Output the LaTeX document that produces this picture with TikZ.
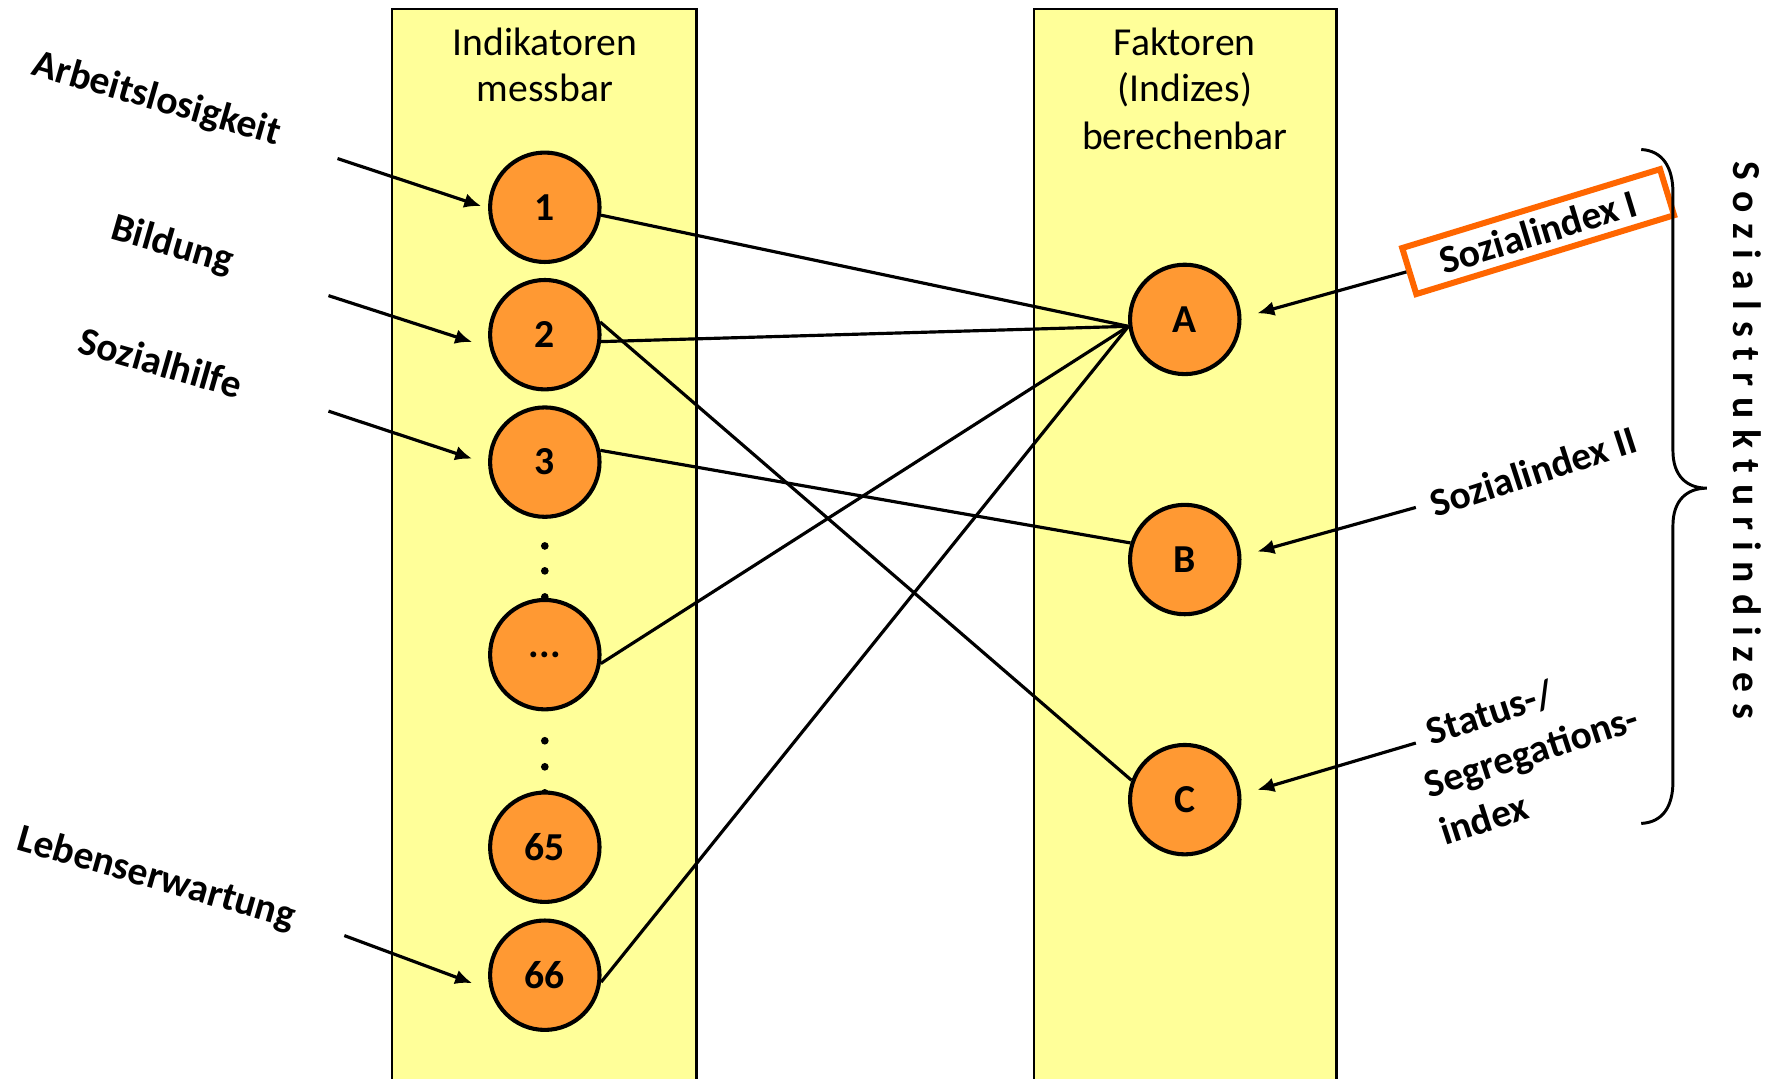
\documentclass[tikz,border=0pt]{standalone}
\usepackage{fontspec}
\setmainfont{Carlito}
\usetikzlibrary{arrows.meta,calc}
\definecolor{colfill}{HTML}{FFFF99}
\definecolor{ballfill}{HTML}{FF9933}
\definecolor{boxline}{HTML}{FF6600}
\tikzset{
  column/.style={draw=black, line width=1pt, fill=colfill},
  ball/.style={circle, draw=black, line width=1.8pt, fill=ballfill,
    minimum size=48.3pt, inner sep=0pt,
    font=\fontsize{17.5pt}{21pt}\selectfont\bfseries},
  head/.style={font=\fontsize{17.5pt}{21pt}\selectfont, anchor=base, inner sep=0pt},
  tag/.style={font=\fontsize{17.5pt}{22pt}\selectfont\bfseries, inner sep=0pt},
  link/.style={line width=1.4pt},
  feed/.style={line width=1.4pt, -{Latex[length=7.5pt,width=6.5pt]}},
}
\begin{document}
\begin{tikzpicture}[x=0.5pt,y=-0.5pt]
\useasboundingbox (0,0) rectangle (1568,952);
\clip (0,0) rectangle (1568,952);
\fill[white] (0,0) rectangle (1568,952);

% the two columns
\draw[column] (346,8) rectangle (615,975);
\draw[column] (913,8) rectangle (1180,975);

% column headings
\node[head] (h1a) at (481,49) {Indikatoren};
\node[head] (h1b) at (481,90) {messbar};
\node[head] (h2a) at (1046,49) {Faktoren};
\node[head] (h2b) at (1046,90) {(Indizes)};
\node[head] (h2c) at (1046,132) {berechenbar};

% ellipsis dots between the indicator circles
\foreach \yy in {482,504,527,654,677,700}
  \fill (481,\yy) circle (1.7pt);

% indicators
\node[ball] (n1)  at (481,183)   {1};
\node[ball] (n2)  at (481,295.5) {2};
\node[ball] (n3)  at (481,408)   {3};
\node[ball] (n4)  at (481,578)   {...};
\node[ball] (n65) at (481,748)   {65};
\node[ball] (n66) at (481,861)   {66};

% factors
\node[ball] (A) at (1046,282) {A};
\node[ball] (B) at (1046,494) {B};
\node[ball] (C) at (1046,706) {C};

% loadings of indicators on factors
\draw[link] (n1.-8)  -- (A.187);
\draw[link] (n2.-7)  -- (A.187);
\draw[link] (n2.13)  -- (C.160);
\draw[link] (n3.12)  -- (B.163);
\draw[link] (n4.-9)  -- (A.187);
\draw[link] (n66.-7) -- (A.187);

% indicator names
\node[tag, rotate=-16] (l1) at (138,88)  {Arbeitslosigkeit};
\node[tag, rotate=-16] (l2) at (152,217) {Bildung};
\node[tag, rotate=-16] (l3) at (142,320) {Sozialhilfe};
\node[tag, rotate=-16] (l4) at (138,776) {Lebenserwartung};

\coordinate (f1) at (298,140);
\coordinate (f2) at (290,261);
\coordinate (f3) at (290,363);
\coordinate (f4) at (304,826);
\draw[feed] (f1) -- ([xshift=-3pt,yshift=0.5pt]n1.west);
\draw[feed] (f2) -- ([xshift=-7pt,yshift=-3.25pt]n2.west);
\draw[feed] (f3) -- ([xshift=-7pt,yshift=1.5pt]n3.west);
\draw[feed] (f4) -- ([xshift=-7pt,yshift=-3.5pt]n66.west);

% index names
\node[tag, rotate=17, draw=boxline, line width=2.65pt,
      minimum width=119pt, minimum height=21.25pt] (r1) at (1358,204.5) {Sozialindex I};
\node[tag, rotate=18] (r2) at (1354,416) {Sozialindex II};
\node[tag, rotate=18, align=left] (r3) at (1352,663)
  {\hspace*{0.45em}Status-/\\Segregations-\\index};

\coordinate (g2) at (1250,448);
\coordinate (g3) at (1250,656);
\draw[feed] (r1.west) -- ([xshift=7pt,yshift=2.7pt]A.east);
\draw[feed] (g2) -- ([xshift=7pt,yshift=3.5pt]B.east);
\draw[feed] (g3) -- ([xshift=7pt,yshift=4.3pt]C.east);

% curly brace grouping the indices
\draw[line width=1.3pt]
  (1449,132) .. controls (1468,133) and (1477,148) .. (1477,170)
  -- (1477,398) .. controls (1477,420) and (1489,431) .. (1507,431)
  .. controls (1489,431) and (1477,442) .. (1477,464)
  -- (1477,690) .. controls (1477,712) and (1468,726) .. (1449,727);

% group title
\node[tag, rotate=-90] (grp) at (1543,389)
  {\addfontfeature{LetterSpace=27.5}Sozialstrukturindizes};
\end{tikzpicture}
\end{document}
